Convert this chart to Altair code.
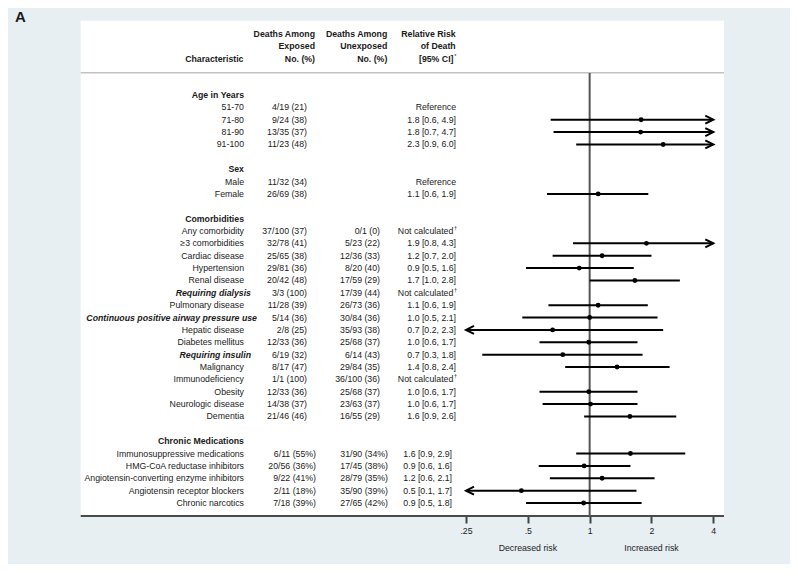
import altair as alt
import pandas as pd

# ---------------- data ----------------
labels = [
    "Age in Years", "51-70", "71-80", "81-90", "91-100", "",
    "Sex", "Male", "Female", "",
    "Comorbidities", "Any comorbidity", "≥3 comorbidities", "Cardiac disease",
    "Hypertension", "Renal disease", "Requiring dialysis", "Pulmonary disease",
    "Continuous positive airway pressure use", "Hepatic disease", "Diabetes mellitus",
    "Requiring insulin", "Malignancy", "Immunodeficiency", "Obesity",
    "Neurologic disease", "Dementia", "",
    "Chronic Medications", "Immunosuppressive medications", "HMG-CoA reductase inhibitors",
    "Angiotensin-converting enzyme inhibitors", "Angiotensin receptor blockers",
    "Chronic narcotics",
]
kinds = [
    "section", "item", "item", "item", "item", "blank",
    "section", "item", "item", "blank",
    "section", "item", "item", "item", "item", "item", "sub", "item",
    "sub", "item", "item", "sub", "item", "item", "item", "item", "item", "blank",
    "section", "item", "item", "item", "item", "item",
]
groups = (["age"] * 6 + ["sex"] * 4 + ["comorb"] * 18 + ["meds"] * 6)
exposed = [
    "", "4/19 (21)", "9/24 (38)", "13/35 (37)", "11/23 (48)", "",
    "", "11/32 (34)", "26/69 (38)", "",
    "", "37/100 (37)", "32/78 (41)", "25/65 (38)", "29/81 (36)", "20/42 (48)",
    "3/3 (100)", "11/28 (39)", "5/14 (36)", "2/8 (25)", "12/33 (36)", "6/19 (32)",
    "8/17 (47)", "1/1 (100)", "12/33 (36)", "14/38 (37)", "21/46 (46)", "",
    "", "6/11 (55%)", "20/56 (36%)", "9/22 (41%)", "2/11 (18%)", "7/18 (39%)",
]
unexposed = [
    "", "", "", "", "", "",
    "", "", "", "",
    "", "0/1 (0)", "5/23 (22)", "12/36 (33)", "8/20 (40)", "17/59 (29)",
    "17/39 (44)", "26/73 (36)", "30/84 (36)", "35/93 (38)", "25/68 (37)", "6/14 (43)",
    "29/84 (35)", "36/100 (36)", "25/68 (37)", "23/63 (37)", "16/55 (29)", "",
    "", "31/90 (34%)", "17/45 (38%)", "28/79 (35%)", "35/90 (39%)", "27/65 (42%)",
]
rr_text = [
    "", "Reference", "1.8 [0.6, 4.9]", "1.8 [0.7, 4.7]", "2.3 [0.9, 6.0]", "",
    "", "Reference", "1.1 [0.6, 1.9]", "",
    "", "Not calculated", "1.9 [0.8, 4.3]", "1.2 [0.7, 2.0]", "0.9 [0.5, 1.6]",
    "1.7 [1.0, 2.8]", "Not calculated", "1.1 [0.6, 1.9]", "1.0 [0.5, 2.1]",
    "0.7 [0.2, 2.3]", "1.0 [0.6, 1.7]", "0.7 [0.3, 1.8]", "1.4 [0.8, 2.4]",
    "Not calculated", "1.0 [0.6, 1.7]", "1.0 [0.6, 1.7]", "1.6 [0.9, 2.6]", "",
    "", "1.6 [0.9, 2.9]", "0.9 [0.6, 1.6]", "1.2 [0.6, 2.1]", "0.5 [0.1, 1.7]",
    "0.9 [0.5, 1.8]",
]
N = None
est = [N, N, 1.78, 1.77, 2.28, N, N, N, 1.10, N, N, N, 1.89, 1.15, 0.89, 1.66, N,
       1.10, 1.00, 0.66, 0.99, 0.74, 1.36, N, 0.99, 1.01, 1.57, N, N, 1.58, 0.94,
       1.15, 0.465, 0.935]
ci_low = [N, N, 0.646, 0.667, 0.86, N, N, N, 0.62, N, N, N, 0.83, 0.66, 0.49, 1.0, N,
          0.63, 0.47, 0.2, 0.57, 0.30, 0.76, N, 0.57, 0.59, 0.94, N, N, 0.86, 0.565,
          0.64, 0.1, 0.49]
ci_high = [N, N, 4.9, 4.7, 6.0, N, N, N, 1.93, N, N, N, 4.3, 2.0, 1.64, 2.75, N,
           1.92, 2.14, 2.28, 1.71, 1.81, 2.45, N, 1.71, 1.71, 2.64, N, N, 2.92, 1.58,
           2.07, 1.69, 1.79]

tick_values = [0.25, 0.5, 1, 2, 4]
risk_labels = ["Decreased risk", "Increased risk"]
risk_at = [0.5, 2]

header_exposed = ["Deaths Among", "Exposed", "No. (%)"]
header_unexposed = ["Deaths Among", "Unexposed", "No. (%)"]
header_rr = ["Relative Risk", "of Death", "[95% CI]"]

# ---------------- tables ----------------
df = pd.DataFrame({
    "row": list(range(len(labels))), "label": labels, "kind": kinds, "grp": groups,
    "exp": exposed, "unexp": unexposed, "rr": rr_text,
    "est": est, "lo": ci_low, "hi": ci_high,
})
XMIN, XMAX = tick_values[0], tick_values[-1]
forest = df.dropna(subset=["est"]).copy()
forest["lo_c"] = forest["lo"].clip(lower=XMIN)
forest["hi_c"] = forest["hi"].clip(upper=XMAX)
right_arrows = forest[forest["hi"] > XMAX]
left_arrows = forest[forest["lo"] < XMIN]
one = pd.DataFrame({"v": [1]})
risk_df = pd.DataFrame({"v": risk_at, "t": risk_labels})

# ---------------- style ----------------
FONT = "Liberation Sans"
FS = 8.75
TXT = "#1a1a1a"
BG = "#e8eff2"

xscale = alt.Scale(type="log", domain=[XMIN, XMAX], range=[458, 705.3], nice=False)
yscale = alt.Scale(domain=[0, 33], range=[87, 495], nice=False, zero=False)
xaxis = alt.Axis(
    values=tick_values,
    labelExpr="datum.value == 0.25 ? '.25' : datum.value == 0.5 ? '.5' : format(datum.value, 'd')",
    title=None, grid=False, domain=False, ticks=True, tickColor="#444", tickWidth=2,
    tickSize=7, labelFont=FONT, labelFontSize=FS, labelColor=TXT, labelPadding=3,
    labelFlush=False, labelOverlap=False,
)
Y = alt.Y("row:Q", scale=yscale, axis=None)


def X(field):
    return alt.X(field, scale=xscale, axis=xaxis)


def txt(data, field, x, align="right", weight="normal", style="normal", size=FS, dy=0):
    return alt.Chart(data).mark_text(
        align=align, baseline="middle", font=FONT, fontSize=size, fontWeight=weight,
        fontStyle=style, color=TXT, dy=dy,
    ).encode(x=alt.value(x), y=Y, text=f"{field}:N")


def fixed_text(s, x, y, align="right", weight="bold", size=FS, baseline="middle"):
    return alt.Chart(one).mark_text(
        text=s, align=align, baseline=baseline, font=FONT, fontSize=size,
        fontWeight=weight, color=TXT,
    ).encode(x=alt.value(x), y=alt.value(y))


# ---------------- layers ----------------
panel = alt.Chart(one).mark_rect(color="white").encode(
    x=alt.value(72.7), x2=alt.value(716), y=alt.value(12.7), y2=alt.value(508))
sep = alt.Chart(one).mark_rule(color="#c2c2c2", strokeWidth=1.5).encode(
    x=alt.value(72.7), x2=alt.value(716), y=alt.value(64.7))
bottom = alt.Chart(one).mark_rule(color="#4a4a4a", strokeWidth=2).encode(
    x=alt.value(72.7), x2=alt.value(716), y=alt.value(508))
ref = alt.Chart(one).mark_rule(color="#555555", strokeWidth=2).encode(
    x=X("v:Q"), y=alt.value(65), y2=alt.value(508))

ci = alt.Chart(forest).mark_rule(color="black", strokeWidth=2).encode(
    x=X("lo_c:Q"), x2="hi_c:Q", y=Y)
pts = alt.Chart(forest).mark_circle(color="black", size=24, opacity=1).encode(
    x=X("est:Q"), y=Y)
rarr = alt.Chart(right_arrows).mark_point(
    shape="M-2,-1L0,0L-2,1", filled=False, size=64, color="black", strokeWidth=2,
    opacity=1).encode(x=X("hi_c:Q"), y=Y)
larr = alt.Chart(left_arrows).mark_point(
    shape="M2,-1L0,0L2,1", filled=False, size=64, color="black", strokeWidth=2,
    opacity=1).encode(x=X("lo_c:Q"), y=Y)

sections = df[df["kind"] == "section"]
items = df[df["kind"] == "item"]
subs = df[df["kind"] == "sub"]
cpap = subs[subs["label"].str.startswith("Continuous")]
subs_short = subs[~subs["label"].str.startswith("Continuous")]
meds = df[df["grp"] == "meds"]
other = df[df["grp"] != "meds"]
notcalc = df[df["rr"] == "Not calculated"]
rr_other = other[other["rr"] != "Not calculated"]

layers = [
    panel, sep, bottom, ref, ci, pts, rarr, larr,
    txt(sections, "label", 236, weight="bold"),
    txt(items, "label", 236),
    txt(subs_short, "label", 243, weight="bold", style="italic"),
    txt(cpap, "label", 249, weight="bold", style="italic"),
    txt(other, "exp", 299),
    txt(meds, "exp", 308),
    txt(other, "unexp", 372),
    txt(meds, "unexp", 380),
    txt(rr_other, "rr", 448),
    txt(notcalc, "rr", 445.3),
    txt(notcalc.assign(dag="†"), "dag", 446, align="left", size=5.5, dy=-3),
    txt(meds, "rr", 444),
    fixed_text("Characteristic", 235.5, 51.3),
]
for i, s in enumerate(header_exposed):
    layers.append(fixed_text(s, 307, [25.5, 37.8, 51.3][i]))
for i, s in enumerate(header_unexposed):
    layers.append(fixed_text(s, 379.3, [25.5, 37.8, 51.3][i]))
layers.append(fixed_text(header_rr[0], 447.7, 25.5))
layers.append(fixed_text(header_rr[1], 447.7, 37.8))
layers.append(fixed_text(header_rr[2], 445.5, 51.3))
layers.append(fixed_text("*", 446.3, 47.5, align="left", size=5.5, weight="normal"))
layers.append(fixed_text("A", 7, 14, align="left", size=15, baseline="alphabetic"))
layers.append(
    alt.Chart(risk_df).mark_text(
        align="center", baseline="middle", font=FONT, fontSize=FS, color=TXT
    ).encode(x=X("v:Q"), y=alt.value(540), text="t:N")
)

chart = alt.layer(*layers).properties(
    width=782, height=508,
    padding={"left": 0, "top": 0, "right": 0, "bottom": 48},
    autosize="none", background=BG,
).configure_view(stroke=None)

chart.save("out.html", embed_options={"renderer": "svg", "actions": False})
